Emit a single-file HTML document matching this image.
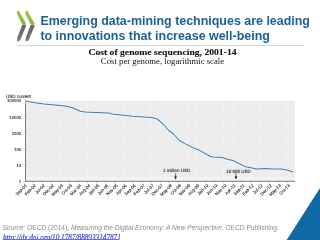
<!DOCTYPE html>
<html><head><meta charset="utf-8">
<style>
html,body{margin:0;padding:0;background:#fff;width:320px;height:240px;overflow:hidden;position:relative}
.t{position:absolute;white-space:nowrap;line-height:1}
#title{left:40.4px;top:14.4px;font:bold 12.44px "Liberation Sans",sans-serif;color:#1b6196;line-height:15.0px}
#ct{left:0;width:325px;text-align:center;top:46.7px;-webkit-text-stroke:0.1px #111;font:bold 8.7px "Liberation Serif",serif;color:#111;transform:scaleX(1.11);transform-origin:162.5px 0}
#cs{left:0;width:325px;text-align:center;top:56.9px;font:7.9px "Liberation Serif",serif;color:#111;transform:scaleX(1.105);transform-origin:162.5px 0}
#src{left:2.4px;top:224.4px;font:6.64px "Liberation Sans",sans-serif;color:#8c8c8c}
#lnk{left:3px;top:234.1px;font:italic 7.22px "Liberation Serif",serif;color:#3b3bd0;-webkit-text-stroke:0.15px #3b3bd0}
#ul{position:absolute;left:3px;top:239.2px;width:116px;height:0.8px;background:#6a6ae0}
svg{position:absolute;left:0;top:0;will-change:transform}
.ax{font-family:"Liberation Sans",sans-serif;font-size:4.5px;fill:#2a2a2a;stroke:#2a2a2a;stroke-width:0.1;text-rendering:geometricPrecision}
.yl{font-family:"Liberation Sans",sans-serif;font-size:4.25px;fill:#2a2a2a;stroke:#2a2a2a;stroke-width:0.1;text-rendering:geometricPrecision}
.xl{font-family:"Liberation Sans",sans-serif;font-size:4.35px;fill:#2a2a2a;stroke:#2a2a2a;stroke-width:0.1;text-rendering:geometricPrecision}
</style></head><body>
<svg width="320" height="240" viewBox="0 0 320 240">
  <!-- logo -->
  <defs>
  <linearGradient id="gg" x1="0" y1="0" x2="0" y2="1"><stop offset="0" stop-color="#a5c847"/><stop offset="1" stop-color="#8cb534"/></linearGradient>
  <linearGradient id="gy" x1="0" y1="0" x2="0" y2="1"><stop offset="0" stop-color="#646464"/><stop offset="1" stop-color="#7a7a7a"/></linearGradient>
  </defs>
  <polygon points="16.9,11.0 18.8,10.6 25.8,23.3 25.8,24.4 22.3,24.4 16.9,14.0" fill="url(#gg)"/>
  <polygon points="22.3,24.7 25.9,24.7 25.9,26.5 20.0,40.6 17.1,41.4 17.1,38.0" fill="url(#gy)"/>
  <polygon points="25.4,11.0 27.3,10.6 34.3,23.3 34.3,24.4 30.8,24.4 25.4,14.0" fill="url(#gg)"/>
  <polygon points="30.8,24.7 34.4,24.7 34.4,26.5 28.5,40.6 25.6,41.4 25.6,38.0" fill="url(#gy)"/>
  <rect x="17" y="45" width="287" height="0.8" fill="#d0d0d0"/>
<rect x="25.5" y="100.9" width="269.5" height="80.4" fill="#ececec"/>
<line x1="33.11" y1="100.9" x2="33.11" y2="181.3" stroke="#f2f2f2" stroke-width="0.9"/>
<line x1="42.19" y1="100.9" x2="42.19" y2="181.3" stroke="#f2f2f2" stroke-width="0.9"/>
<line x1="51.26" y1="100.9" x2="51.26" y2="181.3" stroke="#f2f2f2" stroke-width="0.9"/>
<line x1="60.34" y1="100.9" x2="60.34" y2="181.3" stroke="#f2f2f2" stroke-width="0.9"/>
<line x1="69.41" y1="100.9" x2="69.41" y2="181.3" stroke="#f2f2f2" stroke-width="0.9"/>
<line x1="78.48" y1="100.9" x2="78.48" y2="181.3" stroke="#f2f2f2" stroke-width="0.9"/>
<line x1="87.56" y1="100.9" x2="87.56" y2="181.3" stroke="#f2f2f2" stroke-width="0.9"/>
<line x1="96.63" y1="100.9" x2="96.63" y2="181.3" stroke="#f2f2f2" stroke-width="0.9"/>
<line x1="105.71" y1="100.9" x2="105.71" y2="181.3" stroke="#f2f2f2" stroke-width="0.9"/>
<line x1="114.78" y1="100.9" x2="114.78" y2="181.3" stroke="#f2f2f2" stroke-width="0.9"/>
<line x1="123.85" y1="100.9" x2="123.85" y2="181.3" stroke="#f2f2f2" stroke-width="0.9"/>
<line x1="132.93" y1="100.9" x2="132.93" y2="181.3" stroke="#f2f2f2" stroke-width="0.9"/>
<line x1="142.00" y1="100.9" x2="142.00" y2="181.3" stroke="#f2f2f2" stroke-width="0.9"/>
<line x1="151.08" y1="100.9" x2="151.08" y2="181.3" stroke="#f2f2f2" stroke-width="0.9"/>
<line x1="160.15" y1="100.9" x2="160.15" y2="181.3" stroke="#f2f2f2" stroke-width="0.9"/>
<line x1="169.22" y1="100.9" x2="169.22" y2="181.3" stroke="#f2f2f2" stroke-width="0.9"/>
<line x1="178.30" y1="100.9" x2="178.30" y2="181.3" stroke="#f2f2f2" stroke-width="0.9"/>
<line x1="187.37" y1="100.9" x2="187.37" y2="181.3" stroke="#f2f2f2" stroke-width="0.9"/>
<line x1="196.45" y1="100.9" x2="196.45" y2="181.3" stroke="#f2f2f2" stroke-width="0.9"/>
<line x1="205.52" y1="100.9" x2="205.52" y2="181.3" stroke="#f2f2f2" stroke-width="0.9"/>
<line x1="214.59" y1="100.9" x2="214.59" y2="181.3" stroke="#f2f2f2" stroke-width="0.9"/>
<line x1="223.67" y1="100.9" x2="223.67" y2="181.3" stroke="#f2f2f2" stroke-width="0.9"/>
<line x1="232.74" y1="100.9" x2="232.74" y2="181.3" stroke="#f2f2f2" stroke-width="0.9"/>
<line x1="241.82" y1="100.9" x2="241.82" y2="181.3" stroke="#f2f2f2" stroke-width="0.9"/>
<line x1="250.89" y1="100.9" x2="250.89" y2="181.3" stroke="#f2f2f2" stroke-width="0.9"/>
<line x1="259.96" y1="100.9" x2="259.96" y2="181.3" stroke="#f2f2f2" stroke-width="0.9"/>
<line x1="269.04" y1="100.9" x2="269.04" y2="181.3" stroke="#f2f2f2" stroke-width="0.9"/>
<line x1="278.11" y1="100.9" x2="278.11" y2="181.3" stroke="#f2f2f2" stroke-width="0.9"/>
<line x1="287.19" y1="100.9" x2="287.19" y2="181.3" stroke="#f2f2f2" stroke-width="0.9"/>
<line x1="25.5" y1="116.98" x2="295" y2="116.98" stroke="#f2f2f2" stroke-width="0.9"/>
<line x1="25.5" y1="133.06" x2="295" y2="133.06" stroke="#f2f2f2" stroke-width="0.9"/>
<line x1="25.5" y1="149.14" x2="295" y2="149.14" stroke="#f2f2f2" stroke-width="0.9"/>
<line x1="25.5" y1="165.22" x2="295" y2="165.22" stroke="#f2f2f2" stroke-width="0.9"/>
<rect x="25.5" y="177.10000000000002" width="269.5" height="3.4" fill="#f3f3f3"/>
<line x1="25.5" y1="100.9" x2="25.5" y2="181.3" stroke="#6e6e6e" stroke-width="0.9"/>
<line x1="25.5" y1="181.3" x2="295" y2="181.3" stroke="#6e6e6e" stroke-width="0.9"/>
<line x1="25.5" y1="100.90" x2="27.0" y2="100.90" stroke="#808080" stroke-width="0.7"/>
<text x="21.2" y="101.80" text-anchor="end" class="yl">100000</text>
<line x1="25.5" y1="116.98" x2="27.0" y2="116.98" stroke="#808080" stroke-width="0.7"/>
<text x="21.2" y="118.68" text-anchor="end" class="yl">10000</text>
<line x1="25.5" y1="133.06" x2="27.0" y2="133.06" stroke="#808080" stroke-width="0.7"/>
<text x="21.2" y="134.76" text-anchor="end" class="yl">1000</text>
<line x1="25.5" y1="149.14" x2="27.0" y2="149.14" stroke="#808080" stroke-width="0.7"/>
<text x="21.2" y="150.84" text-anchor="end" class="yl">100</text>
<line x1="25.5" y1="165.22" x2="27.0" y2="165.22" stroke="#808080" stroke-width="0.7"/>
<text x="21.2" y="166.92" text-anchor="end" class="yl">10</text>
<line x1="25.5" y1="181.30" x2="27.0" y2="181.30" stroke="#808080" stroke-width="0.7"/>
<text x="21.2" y="183.00" text-anchor="end" class="yl">1</text>
<line x1="24.04" y1="181.3" x2="24.04" y2="182.8" stroke="#808080" stroke-width="0.7"/>
<text transform="translate(27.14,185.9) rotate(-45)" text-anchor="end" class="xl">Sep-01</text>
<line x1="33.11" y1="181.3" x2="33.11" y2="182.8" stroke="#808080" stroke-width="0.7"/>
<text transform="translate(36.21,185.9) rotate(-45)" text-anchor="end" class="xl">Feb-02</text>
<line x1="42.19" y1="181.3" x2="42.19" y2="182.8" stroke="#808080" stroke-width="0.7"/>
<text transform="translate(45.29,185.9) rotate(-45)" text-anchor="end" class="xl">Jul-02</text>
<line x1="51.26" y1="181.3" x2="51.26" y2="182.8" stroke="#808080" stroke-width="0.7"/>
<text transform="translate(54.36,185.9) rotate(-45)" text-anchor="end" class="xl">Dec-02</text>
<line x1="60.34" y1="181.3" x2="60.34" y2="182.8" stroke="#808080" stroke-width="0.7"/>
<text transform="translate(63.44,185.9) rotate(-45)" text-anchor="end" class="xl">May-03</text>
<line x1="69.41" y1="181.3" x2="69.41" y2="182.8" stroke="#808080" stroke-width="0.7"/>
<text transform="translate(72.51,185.9) rotate(-45)" text-anchor="end" class="xl">Oct-03</text>
<line x1="78.48" y1="181.3" x2="78.48" y2="182.8" stroke="#808080" stroke-width="0.7"/>
<text transform="translate(81.58,185.9) rotate(-45)" text-anchor="end" class="xl">Mar-04</text>
<line x1="87.56" y1="181.3" x2="87.56" y2="182.8" stroke="#808080" stroke-width="0.7"/>
<text transform="translate(90.66,185.9) rotate(-45)" text-anchor="end" class="xl">Aug-04</text>
<line x1="96.63" y1="181.3" x2="96.63" y2="182.8" stroke="#808080" stroke-width="0.7"/>
<text transform="translate(99.73,185.9) rotate(-45)" text-anchor="end" class="xl">Jan-05</text>
<line x1="105.71" y1="181.3" x2="105.71" y2="182.8" stroke="#808080" stroke-width="0.7"/>
<text transform="translate(108.81,185.9) rotate(-45)" text-anchor="end" class="xl">Jun-05</text>
<line x1="114.78" y1="181.3" x2="114.78" y2="182.8" stroke="#808080" stroke-width="0.7"/>
<text transform="translate(117.88,185.9) rotate(-45)" text-anchor="end" class="xl">Nov-05</text>
<line x1="123.85" y1="181.3" x2="123.85" y2="182.8" stroke="#808080" stroke-width="0.7"/>
<text transform="translate(126.95,185.9) rotate(-45)" text-anchor="end" class="xl">Apr-06</text>
<line x1="132.93" y1="181.3" x2="132.93" y2="182.8" stroke="#808080" stroke-width="0.7"/>
<text transform="translate(136.03,185.9) rotate(-45)" text-anchor="end" class="xl">Sep-06</text>
<line x1="142.00" y1="181.3" x2="142.00" y2="182.8" stroke="#808080" stroke-width="0.7"/>
<text transform="translate(145.10,185.9) rotate(-45)" text-anchor="end" class="xl">Feb-07</text>
<line x1="151.08" y1="181.3" x2="151.08" y2="182.8" stroke="#808080" stroke-width="0.7"/>
<text transform="translate(154.18,185.9) rotate(-45)" text-anchor="end" class="xl">Jul-07</text>
<line x1="160.15" y1="181.3" x2="160.15" y2="182.8" stroke="#808080" stroke-width="0.7"/>
<text transform="translate(163.25,185.9) rotate(-45)" text-anchor="end" class="xl">Dec-07</text>
<line x1="169.22" y1="181.3" x2="169.22" y2="182.8" stroke="#808080" stroke-width="0.7"/>
<text transform="translate(172.32,185.9) rotate(-45)" text-anchor="end" class="xl">May-08</text>
<line x1="178.30" y1="181.3" x2="178.30" y2="182.8" stroke="#808080" stroke-width="0.7"/>
<text transform="translate(181.40,185.9) rotate(-45)" text-anchor="end" class="xl">Oct-08</text>
<line x1="187.37" y1="181.3" x2="187.37" y2="182.8" stroke="#808080" stroke-width="0.7"/>
<text transform="translate(190.47,185.9) rotate(-45)" text-anchor="end" class="xl">Mar-09</text>
<line x1="196.45" y1="181.3" x2="196.45" y2="182.8" stroke="#808080" stroke-width="0.7"/>
<text transform="translate(199.55,185.9) rotate(-45)" text-anchor="end" class="xl">Aug-09</text>
<line x1="205.52" y1="181.3" x2="205.52" y2="182.8" stroke="#808080" stroke-width="0.7"/>
<text transform="translate(208.62,185.9) rotate(-45)" text-anchor="end" class="xl">Jan-10</text>
<line x1="214.59" y1="181.3" x2="214.59" y2="182.8" stroke="#808080" stroke-width="0.7"/>
<text transform="translate(217.69,185.9) rotate(-45)" text-anchor="end" class="xl">Jun-10</text>
<line x1="223.67" y1="181.3" x2="223.67" y2="182.8" stroke="#808080" stroke-width="0.7"/>
<text transform="translate(226.77,185.9) rotate(-45)" text-anchor="end" class="xl">Nov-10</text>
<line x1="232.74" y1="181.3" x2="232.74" y2="182.8" stroke="#808080" stroke-width="0.7"/>
<text transform="translate(235.84,185.9) rotate(-45)" text-anchor="end" class="xl">Apr-11</text>
<line x1="241.82" y1="181.3" x2="241.82" y2="182.8" stroke="#808080" stroke-width="0.7"/>
<text transform="translate(244.92,185.9) rotate(-45)" text-anchor="end" class="xl">Sep-11</text>
<line x1="250.89" y1="181.3" x2="250.89" y2="182.8" stroke="#808080" stroke-width="0.7"/>
<text transform="translate(253.99,185.9) rotate(-45)" text-anchor="end" class="xl">Feb-12</text>
<line x1="259.96" y1="181.3" x2="259.96" y2="182.8" stroke="#808080" stroke-width="0.7"/>
<text transform="translate(263.06,185.9) rotate(-45)" text-anchor="end" class="xl">Jul-12</text>
<line x1="269.04" y1="181.3" x2="269.04" y2="182.8" stroke="#808080" stroke-width="0.7"/>
<text transform="translate(272.14,185.9) rotate(-45)" text-anchor="end" class="xl">Dec-12</text>
<line x1="278.11" y1="181.3" x2="278.11" y2="182.8" stroke="#808080" stroke-width="0.7"/>
<text transform="translate(281.21,185.9) rotate(-45)" text-anchor="end" class="xl">May-13</text>
<line x1="287.19" y1="181.3" x2="287.19" y2="182.8" stroke="#808080" stroke-width="0.7"/>
<text transform="translate(290.29,185.9) rotate(-45)" text-anchor="end" class="xl">Oct-13</text>
<polyline points="25.25,100.75 31.5,102.2 44,103.9 60,105.6 66.25,106.3 71.9,107.6 76.25,109.4 80.6,111.25 85,112.1 96,112.6 108.5,113.0 112.25,114.1 121,115 132,116.25 144.5,116.9 152,117.5 157,119 160.75,121.9 163.9,125 168.75,130.5 173.75,134.25 179.4,140.5 185,143.6 192.5,147.4 200,150.6 210,156.25 213.1,156.9 222.5,157.5 226.25,159 233.5,160.75 238.5,163.25 244.75,166.4 252.25,168 256,168.9 266,168.5 271,169 281,169 287.25,170 292.9,171.9" fill="none" stroke="#e3f3fa" stroke-width="2.8" stroke-linejoin="round" transform="translate(0,0.35)"/>
<polyline points="25.25,100.75 31.5,102.2 44,103.9 60,105.6 66.25,106.3 71.9,107.6 76.25,109.4 80.6,111.25 85,112.1 96,112.6 108.5,113.0 112.25,114.1 121,115 132,116.25 144.5,116.9 152,117.5 157,119 160.75,121.9 163.9,125 168.75,130.5 173.75,134.25 179.4,140.5 185,143.6 192.5,147.4 200,150.6 210,156.25 213.1,156.9 222.5,157.5 226.25,159 233.5,160.75 238.5,163.25 244.75,166.4 252.25,168 256,168.9 266,168.5 271,169 281,169 287.25,170 292.9,171.9" fill="none" stroke="#4f7ca3" stroke-width="1.05" stroke-linejoin="round"/>
<text x="6" y="97.6" class="ax">USD current</text>
<text x="163.1" y="172.2" class="ax">1 million USD</text>
<text x="226.3" y="172.6" class="ax">10 000 USD</text>
<line x1="175.6" y1="173.3" x2="175.6" y2="177.5" stroke="#111" stroke-width="0.6"/>
<polygon points="174.29999999999998,176.6 176.9,176.6 175.6,179.6" fill="#111"/>
<line x1="235.9" y1="173.3" x2="235.9" y2="177.5" stroke="#111" stroke-width="0.6"/>
<polygon points="234.6,176.6 237.20000000000002,176.6 235.9,179.6" fill="#111"/>
  <!-- triangle -->
  <polygon points="320,187.9 286.7,240 320,240" fill="#0e69a5"/>
</svg>
<div id="title" class="t">Emerging data-mining techniques are leading<br>to innovations that increase well-being</div>
<div id="ct" class="t">Cost of genome sequencing, 2001-14</div>
<div id="cs" class="t">Cost per genome, logarithmic scale</div>
<div id="src" class="t"><i>Source:</i> OECD (2014), <i>Measuring the Digital Economy: A New Perspective</i>, OECD Publishing.</div>
<div id="lnk" class="t">http://dx.doi.org/10.1787/888933147871</div>
<div id="ul"></div>
</body></html>
